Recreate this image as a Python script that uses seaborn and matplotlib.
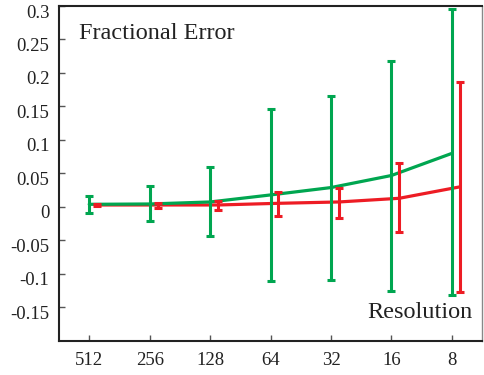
import matplotlib
matplotlib.use("Agg")
import matplotlib.pyplot as plt
import matplotlib.transforms as mtransforms
import seaborn as sns
import numpy as np
import pandas as pd

resolutions = ["512", "256", "128", "64", "32", "16", "8"]
green_val = [0.004, 0.0045, 0.0075, 0.018, 0.029, 0.047, 0.080]
green_hi = [0.017, 0.031, 0.059, 0.147, 0.165, 0.218, 0.295]
green_lo = [-0.0095, -0.021, -0.043, -0.110, -0.109, -0.126, -0.132]
red_val = [0.003, 0.003, 0.003, 0.0055, 0.0075, 0.013, 0.030]
red_hi = [0.005, 0.0055, 0.0095, 0.022, 0.028, 0.0657, 0.187]
red_lo = [0.001, -0.001, -0.005, -0.0135, -0.0165, -0.038, -0.127]
y_ticks = [-0.15, -0.1, -0.05, 0, 0.05, 0.1, 0.15, 0.2, 0.25, 0.3]

GREEN = "#00a650"
RED = "#ed1c24"

sns.set_theme(style="white")
plt.rcParams["font.family"] = ["Liberation Serif", "DejaVu Serif"]
plt.rcParams["axes.unicode_minus"] = False

fig = plt.figure(figsize=(4.84, 3.75), dpi=100)
ax = fig.add_axes([0.1219, 0.0907, 0.8741, 0.8933])

pos = np.arange(len(resolutions))
off = 0.13
df = pd.DataFrame({
    "x": np.concatenate([pos, pos + off]),
    "y": green_val + red_val,
    "s": ["g"] * len(pos) + ["r"] * len(pos),
})
sns.lineplot(data=df, x="x", y="y", hue="s", palette={"g": GREEN, "r": RED},
             hue_order=["r", "g"], linewidth=2.3, legend=False, ax=ax)

gv = np.array(green_val); rv = np.array(red_val)
ax.errorbar(pos + off, rv, yerr=[rv - np.array(red_lo), np.array(red_hi) - rv],
            fmt="none", ecolor=RED, elinewidth=2.2, capsize=2.6, capthick=2.2, zorder=3)
ax.errorbar(pos, gv, yerr=[gv - np.array(green_lo), np.array(green_hi) - gv],
            fmt="none", ecolor=GREEN, elinewidth=2.2, capsize=2.6, capthick=2.2, zorder=4)

ax.set_xlim(-0.5, 6.5)
ax.set_ylim(-0.2, 0.3)
ax.set_xticks(pos)
ax.set_xticklabels(resolutions)
ax.set_yticks(y_ticks)
ax.set_yticklabels(["%g" % t for t in y_ticks])
ax.set_xlabel("")
ax.set_ylabel("")
ax.tick_params(axis="both", direction="in", length=4, width=1, color="#555555",
               labelsize=13.5, labelcolor="#222222", pad=7, left=True, bottom=True)
ax.tick_params(axis="x", pad=8)

shift = mtransforms.ScaledTranslation(0, -0.05, fig.dpi_scale_trans)
for lab in ax.get_yticklabels():
    lab.set_transform(lab.get_transform() + shift)

for side in ["left", "bottom", "top"]:
    ax.spines[side].set_color("#222222")
    ax.spines[side].set_linewidth(1.5)
ax.spines["right"].set_color("#888888")
ax.spines["right"].set_linewidth(1.0)

ax.text(0.047, 0.95, "Fractional Error", transform=ax.transAxes, fontsize=17.5,
        color="#222222", ha="left", va="top")
ax.text(0.978, 0.055, "Resolution", transform=ax.transAxes, fontsize=17.5,
        color="#222222", ha="right", va="bottom")

fig.savefig("out.png", dpi=100)
